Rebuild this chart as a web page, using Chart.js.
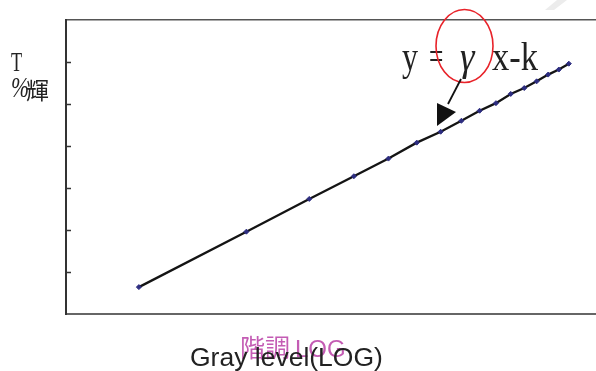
<!DOCTYPE html>
<html lang="ja">
    <head>
        <meta charset="UTF-8">
        <title>Gray level vs luminance (LOG)</title>
        <script src="https://cdn.jsdelivr.net/npm/chart.js"></script>
        <style>
            body,
            html {
                margin: 0;
                padding: 0;
                background: white;
            }
            #gammaChart {
                display: block;
            }
        </style>
    </head>
    <body>
        <canvas id="gammaChart" width="596" height="371"></canvas>

        <script>
            // gray levels (plotted on a log axis)
            const grayLevels = [16, 32, 48, 64, 80, 96, 112, 128, 144, 160, 176, 192, 208, 224, 240, 256];
            // log luminance for each gray level
            const logLuminance = [0.32, 0.98, 1.37, 1.64, 1.85, 2.04, 2.17, 2.30, 2.42, 2.51, 2.62, 2.69, 2.77, 2.85, 2.91, 2.98];

            const xRange = [10, 305];
            const yRange = [0, 3.5];
            const yStep = 0.5;

            // draws a string squeezed horizontally (the labels use a narrow serif)
            function narrowText(ctx, text, x, y, sx) {
                ctx.save();
                ctx.translate(x, y);
                ctx.scale(sx, 1);
                ctx.fillText(text, 0, 0);
                ctx.restore();
            }

            const decorations = {
                id: 'decorations',
                afterDraw(chart) {
                    const ctx = chart.ctx;
                    const area = chart.chartArea;
                    const yScale = chart.scales.y;

                    ctx.save();

                    // inward tick marks on the y axis
                    ctx.strokeStyle = '#333';
                    ctx.lineWidth = 1.5;
                    yScale.ticks.forEach(t => {
                        if (t.value <= yRange[0] || t.value >= yRange[1]) return;
                        const py = Math.round(yScale.getPixelForValue(t.value)) + 0.5;
                        ctx.beginPath();
                        ctx.moveTo(area.left, py);
                        ctx.lineTo(area.left + 5, py);
                        ctx.stroke();
                    });

                    // faint mark in the top corner
                    ctx.fillStyle = '#ececec';
                    ctx.beginPath();
                    ctx.moveTo(545, 10);
                    ctx.lineTo(554, 10);
                    ctx.lineTo(567, 0);
                    ctx.lineTo(557, 0);
                    ctx.closePath();
                    ctx.fill();

                    // y axis label
                    ctx.fillStyle = '#222';
                    ctx.textBaseline = 'alphabetic';
                    ctx.textAlign = 'left';
                    ctx.font = '28px "Liberation Serif"';
                    narrowText(ctx, 'T', 11, 71, 0.65);
                    ctx.font = 'italic 30px "Liberation Serif"';
                    narrowText(ctx, '%', 11, 97, 0.72);
                    ctx.font = '23px "Noto Sans CJK JP"';
                    ctx.fillText('輝', 26, 99);

                    // equation
                    ctx.font = '41px "Liberation Serif"';
                    narrowText(ctx, 'y', 402, 70, 0.78);
                    narrowText(ctx, '=', 429, 70, 0.62);
                    narrowText(ctx, 'x-k', 492, 70, 0.84);
                    ctx.font = 'italic 41px "Liberation Serif"';
                    narrowText(ctx, 'γ', 460, 70, 0.9);

                    // red ring round the exponent
                    ctx.strokeStyle = '#e8232a';
                    ctx.lineWidth = 1.6;
                    ctx.beginPath();
                    ctx.ellipse(464.5, 46, 28.5, 36.5, 0, 0, Math.PI * 2);
                    ctx.stroke();

                    // arrow to the line
                    ctx.strokeStyle = '#111';
                    ctx.lineWidth = 1.8;
                    ctx.beginPath();
                    ctx.moveTo(461, 79);
                    ctx.lineTo(448, 104);
                    ctx.stroke();
                    ctx.fillStyle = '#111';
                    ctx.beginPath();
                    ctx.moveTo(437, 103);
                    ctx.lineTo(456, 112);
                    ctx.lineTo(437, 126);
                    ctx.closePath();
                    ctx.fill();

                    // x axis labels
                    ctx.fillStyle = '#c45cb4';
                    ctx.font = '25px "Noto Sans CJK JP"';
                    ctx.fillText('階調', 240, 357);
                    ctx.font = '24px "Liberation Sans"';
                    ctx.fillText('LOG', 295, 357);
                    ctx.fillStyle = '#222';
                    ctx.font = '26.5px "Liberation Sans"';
                    ctx.fillText('Gray level(LOG)', 190, 366);

                    ctx.restore();
                }
            };

            const ctx = document
                .getElementById('gammaChart')
                .getContext('2d');

            new Chart(ctx, {
                type: 'line',
                data: {
                    datasets: [
                        {
                            data: grayLevels.map((g, i) => ({x: g, y: logLuminance[i]})),
                            borderColor: '#141414',
                            borderWidth: 2.3,
                            pointStyle: 'rectRot',
                            pointRadius: 2.5,
                            pointBackgroundColor: '#2d2d80',
                            pointBorderColor: '#2d2d80',
                            pointBorderWidth: 1,
                            tension: 0,
                            fill: false
                        }
                    ]
                },
                options: {
                    responsive: false,
                    animation: false,
                    layout: {padding: 0, autoPadding: false},
                    plugins: {
                        legend: {display: false},
                        tooltip: {enabled: false}
                    },
                    scales: {
                        x: {
                            type: 'logarithmic',
                            position: 'bottom',
                            min: xRange[0],
                            max: xRange[1],
                            ticks: {display: false},
                            grid: {display: false},
                            border: {display: true, color: '#666', width: 2},
                            afterFit(scale) {
                                scale.height = 57;
                            }
                        },
                        xTop: {
                            type: 'logarithmic',
                            position: 'top',
                            min: xRange[0],
                            max: xRange[1],
                            ticks: {display: false},
                            grid: {display: false},
                            border: {display: true, color: '#555', width: 1.5},
                            afterFit(scale) {
                                scale.height = 20;
                            }
                        },
                        y: {
                            min: yRange[0],
                            max: yRange[1],
                            ticks: {display: false, stepSize: yStep},
                            grid: {display: false},
                            border: {display: true, color: '#333', width: 2},
                            afterFit(scale) {
                                scale.width = 66;
                            }
                        }
                    }
                },
                plugins: [decorations]
            });
        </script>
    </body>
</html>
